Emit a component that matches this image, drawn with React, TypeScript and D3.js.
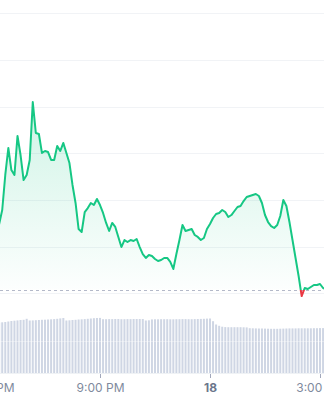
import React from "react";
import * as d3 from "d3";

const W = 324;
const H = 400;

// 5-minute samples starting 6:15 PM on the 17th
const START = new Date(2024, 3, 17, 18, 15);
const STEP_MIN = 5;

const prices: number[] = [
  2.4743, 2.4893, 2.5268, 2.5557, 2.5321, 2.5268, 2.5686, 2.5482, 2.5214, 2.5268,
  2.5429, 2.605, 2.5718, 2.5707, 2.5504, 2.5525, 2.5514, 2.5429, 2.5429, 2.5579,
  2.5525, 2.5611, 2.5504, 2.5396, 2.5161, 2.4968, 2.4689, 2.4657, 2.4871, 2.4914,
  2.4968, 2.4946, 2.5011, 2.4946, 2.4861, 2.4754, 2.4668, 2.4754, 2.4711, 2.4604,
  2.4496, 2.4571, 2.455, 2.4571, 2.4561, 2.4582, 2.4496, 2.4421, 2.4379, 2.4411,
  2.44, 2.4368, 2.4346, 2.4357, 2.4379, 2.4379, 2.4336, 2.4261, 2.4421, 2.4571,
  2.4732, 2.4668, 2.4679, 2.4689, 2.4625, 2.4604, 2.4571, 2.4593, 2.4689, 2.4743,
  2.4807, 2.485, 2.4861, 2.4893, 2.4871, 2.4818, 2.4839, 2.4882, 2.4925, 2.4936,
  2.4989, 2.5032, 2.5043, 2.5054, 2.5064, 2.5043, 2.4968, 2.4839, 2.4764, 2.4721,
  2.47, 2.4732, 2.4828, 2.5, 2.4936, 2.4764, 2.4571, 2.4379, 2.4186, 2.3971,
  2.4057, 2.4046, 2.4068, 2.4089, 2.4089, 2.41, 2.4057, 2.4046,
];

const volumes: number[] = [
  50.5, 50.7, 51, 51.5, 52, 52.3, 52.6, 53, 53.2, 54.2,
  52.5, 52.6, 52.8, 53, 53.2, 53.3, 53.5, 53.7, 53.9, 54.2,
  54.6, 55, 52.5, 52.7, 53, 53.2, 53.5, 53.7, 53.9, 54.2,
  54.5, 54.8, 55, 55.1, 53.8, 53.8, 53.9, 53.9, 54, 54,
  53.8, 53.8, 53.9, 53.9, 54, 54, 54, 54, 52.5, 52.7,
  53.6, 53.7, 53.7, 53.8, 53.8, 53.8, 53.7, 53.7, 53.8, 53.8,
  53.9, 53.9, 53.8, 53.8, 53.9, 54, 54.1, 54.2, 54.4, 54.5,
  51.8, 48.5, 47.2, 46.3, 45.9, 45.8, 45.8, 45.8, 45.8, 45.8,
  45.7, 45.6, 44.8, 44.7, 44.6, 44.5, 44.5, 44.4, 44.3, 44.2,
  44.2, 44.2, 44.3, 44.4, 44.5, 44.6, 44.6, 44.6, 44.7, 44.7,
  44.7, 44.7, 44.7, 44.8, 44.8, 44.9, 44.9, 44.9,
];

const openPrice = 2.4041;
const priceDomain = [2.4, 2.7];
const gridCount = 6;
const volumeDomain = [0, 60];

const tickTimes: Date[] = [
  new Date(2024, 3, 17, 18, 0),
  new Date(2024, 3, 17, 21, 0),
  new Date(2024, 3, 18, 0, 0),
  new Date(2024, 3, 18, 3, 0),
];
const tickLabels: string[] = ["6:00 PM", "9:00 PM", "18", "3:00 AM"];

const GREEN = "#16c784";
const RED = "#ea3943";

export default function App() {
  const times = prices.map((_, i) => new Date(START.getTime() + i * STEP_MIN * 60000));

  const x = d3.scaleTime().domain([tickTimes[0], tickTimes[3]]).range([-10, 320]);
  const y = d3.scaleLinear().domain(priceDomain).range([293.33, 13.33]);
  const yv = d3.scaleLinear().domain(volumeDomain).range([373, 313]);

  const data = prices.map((p, i) => ({ t: times[i], p, v: volumes[i] }));
  const yBase = y(openPrice);

  const line = d3
    .line<{ t: Date; p: number }>()
    .x((d) => x(d.t))
    .y((d) => y(d.p));
  const area = d3
    .area<{ t: Date; p: number }>()
    .x((d) => x(d.t))
    .y0(yBase)
    .y1((d) => y(d.p));

  const gridVals = d3.range(gridCount + 1).map(
    (i) => priceDomain[0] + ((priceDomain[1] - priceDomain[0]) * i) / gridCount
  );
  const baseOff = yBase / H;

  return (
    <svg
      width={W}
      height={H}
      style={{ position: "absolute", left: 0, top: 0, background: "#fff" }}
      fontFamily="Inter, 'Noto Sans', sans-serif"
    >
      <defs>
        <linearGradient id="strokeG" gradientUnits="userSpaceOnUse" x1="0" y1="0" x2="0" y2={H}>
          <stop offset={baseOff} stopColor={GREEN} />
          <stop offset={baseOff} stopColor={RED} />
        </linearGradient>
        <linearGradient id="fillG" gradientUnits="userSpaceOnUse" x1="0" y1={y(2.6)} x2="0" y2={H}>
          <stop offset="0" stopColor={GREEN} stopOpacity={0.2} />
          <stop offset={(yBase - y(2.6)) / (H - y(2.6))} stopColor={GREEN} stopOpacity={0.01} />
          <stop offset={(yBase - y(2.6)) / (H - y(2.6))} stopColor={RED} stopOpacity={0.15} />
          <stop offset="1" stopColor={RED} stopOpacity={0.15} />
        </linearGradient>
      </defs>

      {gridVals.map((g, i) => (
        <line
          key={i}
          x1={0}
          x2={W}
          y1={Math.round(y(g)) + 0.5}
          y2={Math.round(y(g)) + 0.5}
          stroke="#f1f3f6"
          strokeWidth={1}
        />
      ))}

      {data.map((d, i) => (
        <rect
          key={i}
          x={x(d.t) - 1}
          y={yv(d.v)}
          width={2}
          height={yv(0) - yv(d.v)}
          fill="#cfd6e4"
        />
      ))}
      <line x1={0} x2={W} y1={341.5} y2={341.5} stroke="#ffffff" strokeOpacity={0.35} />
      <line x1={0} x2={W} y1={373.5} y2={373.5} stroke="#eff2f5" />

      <path d={area(data) || ""} fill="url(#fillG)" />
      <line
        x1={0}
        x2={W}
        y1={Math.round(yBase) + 0.5}
        y2={Math.round(yBase) + 0.5}
        stroke="#a1a7bb"
        strokeDasharray="3,3"
        strokeOpacity={0.8}
      />
      <path
        d={line(data) || ""}
        fill="none"
        stroke="url(#strokeG)"
        strokeWidth={2}
        strokeLinejoin="round"
        strokeLinecap="round"
      />

      {tickTimes.map((t, i) => (
        <g key={i} transform={`translate(${Math.round(x(t)) + 0.5},0)`}>
          <line y1={374} y2={378} stroke="#a1a7bb" />
          <text
            y={392}
            textAnchor="middle"
            fontSize={12}
            fill={tickLabels[i] === "18" ? "#6b768c" : "#808a9d"}
            fontWeight={tickLabels[i] === "18" ? 700 : 400}
          >
            {tickLabels[i]}
          </text>
        </g>
      ))}
    </svg>
  );
}
